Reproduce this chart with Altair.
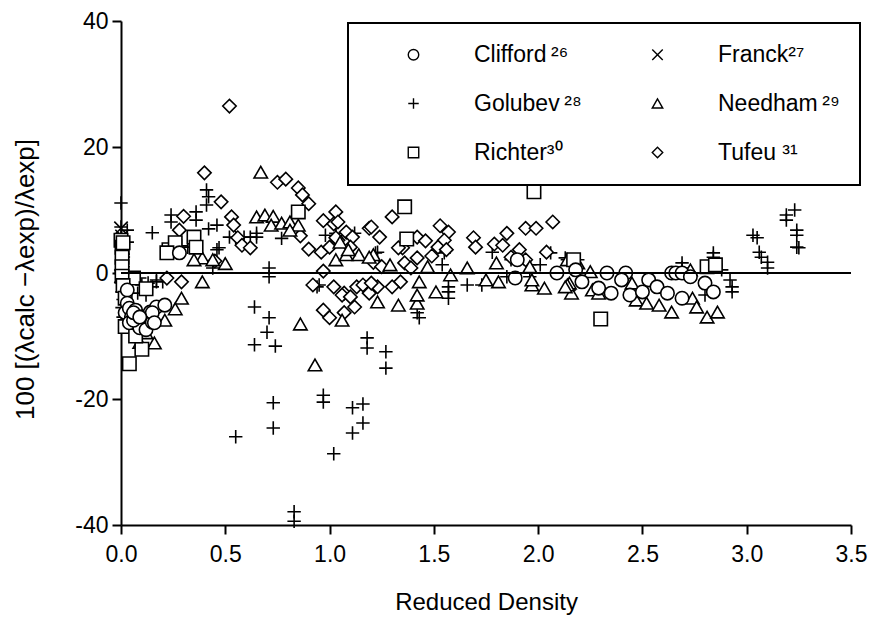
import altair as alt
import pandas as pd

# legend order is column-major in Vega: col 1 = Clifford, Golubev, Richter; col 2 = Franck, Needham, Tufeu
SERIES = ["Clifford\u2009²⁶", "Golubev\u2009²⁸", "Richter³⁰", "Franck²⁷", "Needham\u2009²⁹", "Tufeu ³¹"]
SHAPES = ["circle", "M-1,0L1,0M0,-1L0,1", "square", "M-1,-1L1,1M-1,1L1,-1", "triangle-up", "diamond"]
X_TICKS = [0.0, 0.5, 1.0, 1.5, 2.0, 2.5, 3.0, 3.5]
Y_TICKS = [-40, -20, 0, 20, 40]

clifford_x = [0.03, 0.03, 0.02, 0.04, 0.07, 0.05, 0.10, 0.14, 0.17, 0.21, 0.04, 0.09, 0.12, 0.15, 0.06,
              0.28, 0.15, 0.16, 0.06, 0.09, 1.90, 1.89, 2.09, 2.18, 2.21, 2.33, 2.29, 2.35, 2.42, 2.40,
              2.44, 2.50, 2.53, 2.57, 2.62, 2.64, 2.66, 2.69, 2.69, 2.73, 2.80, 2.84]
clifford_y = [-2.7, -4.8, -6.3, -5.6, -5.9, -7.0, -7.0, -6.2, -5.4, -5.1, -7.9, -8.7, -9.0, -7.8, -7.5,
              3.2, -6.3, -7.9, -6.3, -7.0, 2.1, -0.8, 0.0, 0.5, -1.4, 0.0, -2.4, -3.2, 0.0, -1.1,
              -3.5, -3.0, -1.1, -2.2, -3.2, 0.0, 0.0, 0.0, -4.0, -0.6, -1.6, -3.0]

franck_x = [0.0, 0.005, 0.01, 0.005, 0.0]
franck_y = [7.1, 5.8, 3.5, 1.0, -0.5]

golubev_x = [0.0, 0.0, 0.03, 0.03, 0.01, 0.005, 0.01, 0.005, 0.01, 0.005, 0.01, 0.005, 0.01, 0.005, 0.01,
             0.02, 0.03,
             0.15, 0.24, 0.24, 0.36, 0.36, 0.41, 0.42, 0.41, 0.46, 0.42, 0.46, 0.29, 0.32, 0.71, 0.71,
             0.52, 0.55, 0.62, 0.65, 0.77, 0.65, 0.59, 0.47, 0.44, 0.09, 0.13, 0.17, 0.20, 0.08, 0.10,
             0.15, 0.12, 0.17,
             0.64, 0.71, 0.70, 0.64, 0.74, 0.73, 0.73, 0.55, 0.83, 0.83, 0.97, 0.97, 1.02, 1.11, 1.16,
             1.16, 1.11, 1.18, 1.18, 1.27, 1.27, 1.42, 1.43,
             0.94, 0.95, 1.03, 0.98, 1.03, 1.12, 1.22, 1.23, 1.55, 1.54, 1.57, 1.57, 1.57, 1.78, 1.66,
             1.73, 1.87, 1.96, 2.01, 2.06, 2.14, 2.19, 1.96, 1.85, 2.15, 2.13,
             2.69, 2.69, 2.84, 2.84, 2.80, 2.88, 2.92, 2.93, 2.93, 3.03, 3.05, 3.06, 3.07, 3.10, 3.10,
             3.23, 3.19, 3.19, 3.24, 3.24, 3.24, 3.25]
golubev_y = [11.1, 7.3, 6.8, 4.9, 3.0, 2.0, 1.0, 0.3, -0.5, -1.2, -2.0, -3.0, -4.2, -5.5, -7.0,
             -1.0, -0.3,
             6.4, 9.2, 8.1, 9.7, 8.4, 13.2, 12.1, 10.8, 7.6, 7.0, 3.7, 4.3, 4.1, 0.8, -0.6,
             5.7, 5.6, 5.7, 5.7, 5.5, 6.3, 5.7, 4.0, 0.8, -0.8, -1.6, -1.4, -1.4, -3.2, -1.9,
             -2.2, -3.5, -1.1,
             -5.4, -7.1, -9.4, -11.4, -11.6, -20.6, -24.6, -26.0, -37.9, -39.4, -19.4, -20.5, -28.7, -21.4, -20.8,
             -23.8, -25.4, -10.3, -11.9, -12.5, -15.1, -6.3, -7.1,
             -2.2, -1.9, 6.3, 6.0, 5.9, 6.3, 3.2, 3.3, 3.2, 1.3, -2.2, -3.0, -4.0, 3.3, -1.9,
             -1.9, 2.1, 1.3, 1.3, 3.2, 2.1, 2.1, -0.6, -0.6, -2.7, 2.4,
             1.6, 0.8, 3.2, 2.5, -3.5, 0.5, -1.1, -2.2, -3.0, 6.0, 5.6, 3.3, 2.5, 1.7, 0.8,
             10.0, 9.2, 8.4, 6.8, 6.0, 4.1, 4.0]

needham_x = [0.67, 0.65, 0.69, 0.73, 0.72, 0.77, 0.81, 0.85, 0.81, 0.39, 0.39, 0.29, 0.26, 0.21, 0.16,
             0.09, 0.86, 0.93, 1.06, 1.23, 1.33, 1.42, 1.03, 1.08, 1.14, 1.21, 1.05, 1.09, 1.19, 1.29,
             1.43, 1.42, 1.51, 1.47, 1.58, 1.66, 1.80, 1.81, 1.96, 1.97, 2.03, 2.15, 2.16, 1.75, 1.97,
             2.14, 2.14, 2.19, 2.25, 2.13, 2.26, 2.45, 2.47, 2.52, 2.58, 2.64, 2.73, 2.74, 2.76, 2.81,
             2.86, 2.29, 0.35, 0.44, 0.04, 0.06, 0.12, 0.50]
needham_y = [16.0, 8.9, 9.2, 9.0, 7.6, 7.9, 8.1, 7.6, 6.8, 2.4, -1.4, -4.0, -5.7, -7.5, -11.1,
             -11.0, -8.1, -14.6, -7.5, -4.6, -5.1, -4.8, 2.1, 2.9, 2.9, 2.9, 4.9, 3.7, 2.5, 1.3,
             -1.4, -3.5, -3.0, 1.0, -0.3, 0.8, 1.6, -1.4, 1.0, -1.9, -2.4, -1.6, -3.2, -1.1, -1.1,
             -1.9, 2.1, 1.6, 0.2, -2.2, -2.7, -1.6, -4.3, -4.8, -5.1, -6.2, 0.5, -4.0, -5.4, -7.0,
             -6.2, -3.2, 2.1, 2.1, -5.5, -8.0, -9.5, 1.5]

richter_x = [0.04, 0.10, 0.85, 1.36, 1.37, 1.98, 2.30, 2.81, 2.85, 2.17, 0.0, 0.005, 0.23, 0.26, 0.35,
             0.36, 0.22, 0.01, 0.005, 0.06, 0.005, 0.005, 0.01, 0.02, 0.02, 0.07, 0.12]
richter_y = [-14.4, -12.1, 9.7, 10.5, 5.4, 12.9, -7.3, 1.0, 1.3, 2.1, 5.2, 4.1, 3.7, 4.8, 5.7,
             4.1, 3.2, 4.8, 2.5, -0.8, 1.0, -0.5, -2.0, -4.0, -8.5, -10.0, -2.5]

tufeu_x = [0.40, 0.52, 0.48, 0.53, 0.54, 0.56, 0.58, 0.62, 0.30, 0.28, 0.45, 0.29, 0.22, 0.75, 0.79,
           0.85, 0.87, 0.90, 1.03, 0.97, 1.02, 1.08, 1.11, 0.86, 0.90, 0.96, 1.00, 1.04, 1.10, 1.19,
           1.24, 0.97, 0.92, 1.02, 1.07, 0.97, 1.00, 1.13, 1.16, 1.19, 1.04, 1.03, 1.30, 1.35, 1.42,
           1.46, 1.53, 1.57, 1.55, 1.52, 1.56, 1.42, 1.36, 1.49, 1.39, 1.34, 1.30, 1.23, 1.06, 1.10,
           1.12, 1.07, 1.21, 1.25, 1.69, 1.70, 1.79, 1.83, 1.85, 1.94, 1.99, 2.07, 1.91, 1.87, 1.94,
           2.04, 1.20, 1.33, 1.20]
tufeu_y = [15.9, 26.5, 11.3, 8.9, 7.6, 5.6, 4.4, 4.0, 9.0, 6.8, 1.9, -1.4, -0.8, 14.4, 14.9,
           13.5, 12.4, 11.0, 9.7, 8.3, 7.8, 6.5, 5.7, 5.9, 3.8, 3.3, 4.1, 5.2, 4.1, 7.1,
           5.7, 0.3, -1.9, -2.2, -3.2, -5.9, -7.1, -2.2, -1.9, -3.2, 8.1, 5.6, 8.9, 4.0, 5.7,
           5.1, 7.5, 6.5, 5.2, 4.1, 3.7, 2.4, 1.6, 2.7, 0.8, -1.4, -2.2, -2.2, -3.5, -3.8,
           -5.4, -6.3, 1.7, 1.0, 5.6, 4.1, 4.6, 4.4, 6.3, 7.1, 7.1, 8.1, 3.7, 2.5, 2.1,
           3.3, 7.3, 4.0, -1.6]

# drawing order: later groups are painted on top (circles end up on top, as in the reference)
groups = [
    (SERIES[1], golubev_x, golubev_y),
    (SERIES[3], franck_x, franck_y),
    (SERIES[5], tufeu_x, tufeu_y),
    (SERIES[4], needham_x, needham_y),
    (SERIES[2], richter_x, richter_y),
    (SERIES[0], clifford_x, clifford_y),
]
rows = []
for name, xs, ys in groups:
    for xv, yv in zip(xs, ys):
        rows.append({"density": xv, "dev": yv, "source": name})
df = pd.DataFrame(rows)

FONT = "Liberation Sans"

points = alt.Chart(df).mark_point(
    filled=False, fill="white", color="black", strokeWidth=1.6, size=180, opacity=1
).encode(
    x=alt.X("density:Q",
            scale=alt.Scale(domain=[0, 3.5], nice=False, zero=False),
            axis=alt.Axis(values=X_TICKS, format=".1f", title="Reduced Density",
                          titleX=365, titleY=84, titleBaseline="alphabetic", titleAlign="center",
                          labelPadding=9)),
    y=alt.Y("dev:Q",
            scale=alt.Scale(domain=[-40, 40], nice=False),
            axis=alt.Axis(values=Y_TICKS, labelExpr="'' + datum.value", title="100 [(λcalc −λexp)/λexp]",
                          titleX=-96, titleY=258, titleBaseline="middle", titleAlign="center",
                          titleFontSize=26)),
    shape=alt.Shape("source:N",
                    scale=alt.Scale(domain=SERIES, range=SHAPES),
                    legend=alt.Legend(title=None, orient="none", legendX=227, legendY=2, columns=2,
                                      padding=20, strokeColor="black", symbolSize=110,
                                      symbolOffset=34, labelOffset=49, columnPadding=30,
                                      rowPadding=25, labelFontSize=23, labelFont=FONT,
                                      symbolStrokeWidth=1.4)),
)

zero = alt.Chart(df).mark_rule(color="black", strokeWidth=2).encode(y=alt.datum(0))

chart = alt.layer(points, zero).properties(
    width=730, height=504,
    autosize=alt.AutoSizeParams(type="none"),
    padding={"left": 121, "top": 21, "right": 19, "bottom": 92},
).configure_view(stroke=None).configure_axis(
    grid=False, domainColor="black", domainWidth=2, tickColor="black", tickWidth=2, tickSize=9,
    labelColor="black", labelFont=FONT, labelFontSize=23, labelFlush=False, labelOverlap=False,
    labelPadding=4, titleFont=FONT, titleFontSize=24, titleFontWeight="normal", titleColor="black"
).configure_legend(strokeWidth=2)

chart.save("out.html", embed_options={"renderer": "svg", "actions": False})
